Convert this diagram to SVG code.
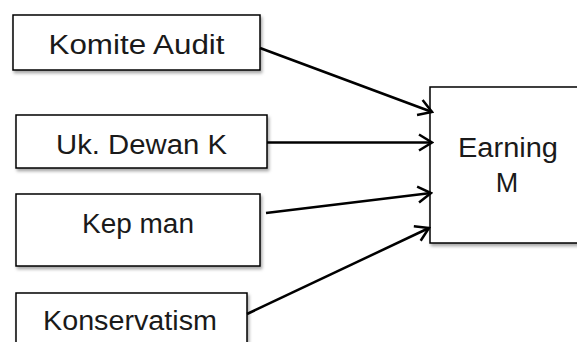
<svg xmlns="http://www.w3.org/2000/svg" width="577" height="342" viewBox="0 0 577 342">
  <style>
    .box { fill: #ffffff; stroke: #000000; stroke-width: 1.5; filter: url(#shadow); }
    .lbl { font-family: "Liberation Sans", Arial, sans-serif; font-size: 27px; fill: #1a1a1a; text-anchor: middle; }
    .edge { stroke: #000000; stroke-width: 2.5; fill: none; marker-end: url(#arrow); }
  </style>
  <defs>
    <filter id="shadow" x="-10%" y="-10%" width="130%" height="140%">
      <feDropShadow dx="1.5" dy="2.5" stdDeviation="1.5" flood-color="#000000" flood-opacity="0.35"/>
    </filter>
    <marker id="arrow" viewBox="-15 -10 17 20" markerWidth="17" markerHeight="20" refX="0" refY="0" orient="auto" markerUnits="userSpaceOnUse">
      <path d="M-13,-8 L0,0 L-13,8" fill="none" stroke="#000000" stroke-width="2.5"/>
    </marker>
  </defs>
  <rect width="577" height="342" fill="#ffffff"/>
  <g id="komite-audit">
    <rect class="box" x="13" y="15" width="247" height="55"/>
    <text class="lbl" x="136.5" y="54" textLength="176" lengthAdjust="spacingAndGlyphs">Komite Audit</text>
  </g>
  <g id="uk-dewan-k">
    <rect class="box" x="16" y="115" width="251" height="53"/>
    <text class="lbl" x="141.5" y="154" textLength="171" lengthAdjust="spacingAndGlyphs">Uk. Dewan K</text>
  </g>
  <g id="kep-man">
    <rect class="box" x="16" y="194" width="244" height="72"/>
    <text class="lbl" x="138" y="233" textLength="112" lengthAdjust="spacingAndGlyphs">Kep man</text>
  </g>
  <g id="konservatism">
    <rect class="box" x="16" y="293" width="231" height="60"/>
    <text class="lbl" x="130" y="330" textLength="174" lengthAdjust="spacingAndGlyphs">Konservatism</text>
  </g>
  <g id="earning-m">
    <rect class="box" x="430" y="87" width="160" height="156"/>
    <text class="lbl" x="508" y="157" textLength="100" lengthAdjust="spacingAndGlyphs">Earning</text>
    <text class="lbl" x="507" y="192">M</text>
  </g>
  <g id="connectors">
    <line class="edge" x1="260" y1="48" x2="432" y2="112"/>
    <line class="edge" x1="267" y1="142.5" x2="432" y2="142.5"/>
    <line class="edge" x1="266" y1="213" x2="431" y2="193"/>
    <line class="edge" x1="247" y1="314" x2="429" y2="228"/>
  </g>
</svg>
